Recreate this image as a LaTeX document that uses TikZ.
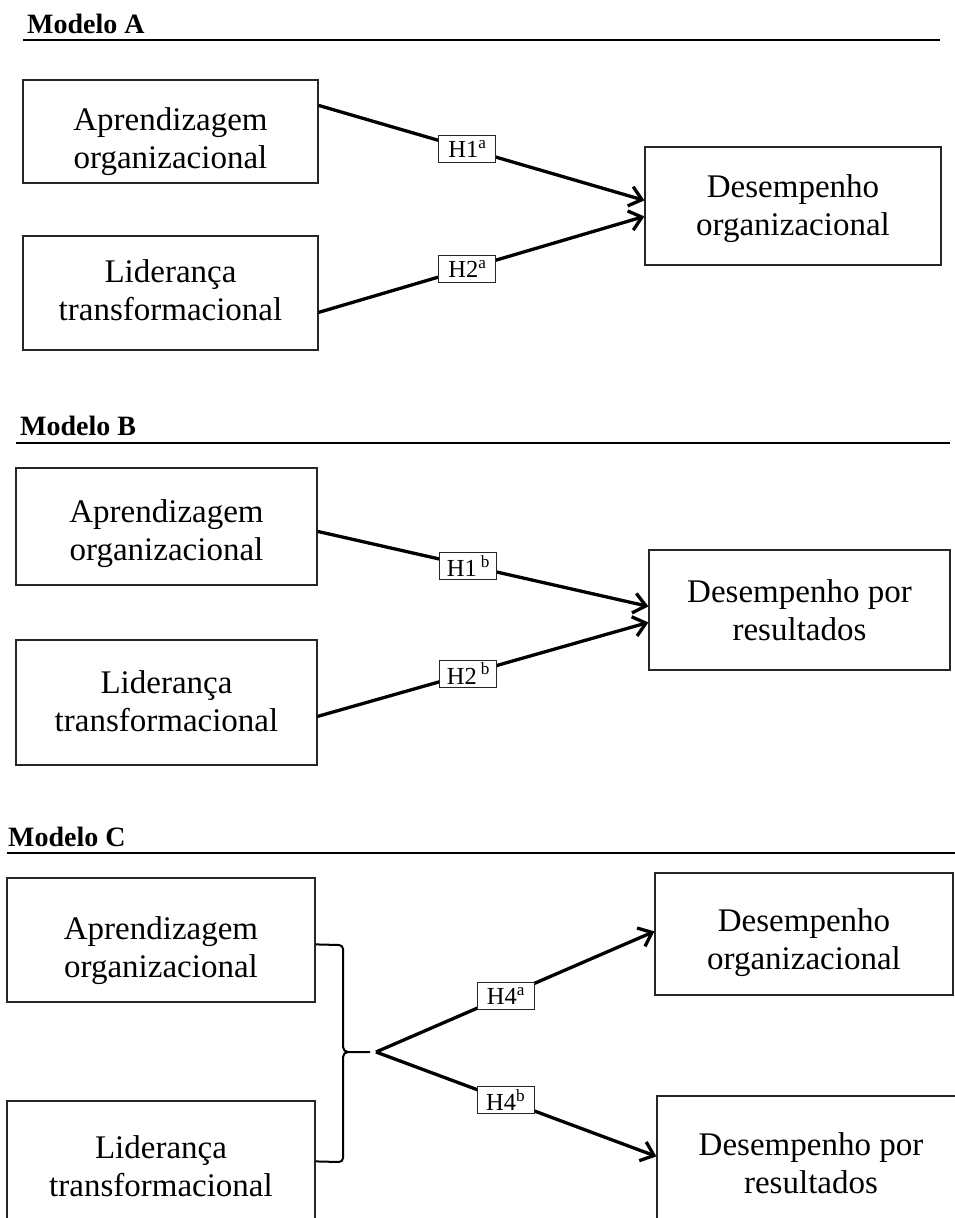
\documentclass[tikz,border=0pt]{standalone}
\usepackage{fontspec}
\setmainfont{Liberation Serif}
\usetikzlibrary{arrows.meta}

\tikzset{
  box/.style={draw=black!85, line width=1.2pt, inner sep=0pt},
  txt/.style={anchor=base, inner sep=0pt, font=\fontsize{33}{38}\selectfont},
  title/.style={anchor=base west, inner sep=0pt, font=\fontsize{28}{30}\selectfont\bfseries},
  rule/.style={line width=2.7pt},
  arr/.style={line width=3.3pt, -{Straight Barb[length=12pt,width=20pt]}},
  hlab/.style={draw=black!85, line width=1pt, fill=white, inner sep=0pt,
    minimum width=57pt, minimum height=27pt, font=\fontsize{24.5}{26}\selectfont},
  brace/.style={line width=2pt}
}
\newcommand{\twolines}[2]{\begin{tabular}[t]{@{}c@{}}#1\\#2\end{tabular}}

\begin{document}
\begin{tikzpicture}[x=1pt,y=-1pt]
\useasboundingbox (0,0) rectangle (955,1218);
\clip (0,0) rectangle (955,1218);

% ---------------- Modelo A ----------------
\node[title] (ta) at (27,33) {Modelo A};
\draw[rule] (23,40) -- (940,40);

\node[box, minimum width=295pt, minimum height=103pt] (a1) at (170.5,131.5) {};
\node[txt] (a1t) at (170.5,130) {\twolines{Aprendizagem}{organizacional}};
\node[box, minimum width=295pt, minimum height=114pt] (a2) at (170.5,293) {};
\node[txt] (a2t) at (170.5,282) {\twolines{Liderança}{transformacional}};
\node[box, minimum width=296pt, minimum height=118pt] (a3) at (793,206) {};
\node[txt] (a3t) at (793,197) {\twolines{Desempenho}{organizacional}};

\draw[arr] ([yshift=-26pt]a1.north east) -- node[hlab,pos=0.457] (h1a) {H1\textsuperscript{a}} ([yshift=-54pt]a3.north west);
\draw[arr] ([yshift=-77pt]a2.north east) -- node[hlab,pos=0.457] (h2a) {H2\textsuperscript{a}} ([yshift=-70pt]a3.north west);

% ---------------- Modelo B ----------------
\node[title] (tb) at (20,435) {Modelo B};
\draw[rule] (16,443) -- (950,443);

\node[box, minimum width=301pt, minimum height=117pt] (b1) at (166.5,526.5) {};
\node[txt] (b1t) at (166.5,522) {\twolines{Aprendizagem}{organizacional}};
\node[box, minimum width=301pt, minimum height=125pt] (b2) at (166.5,702.5) {};
\node[txt] (b2t) at (166.5,693) {\twolines{Liderança}{transformacional}};
\node[box, minimum width=301pt, minimum height=120pt] (b3) at (799.5,610) {};
\node[txt] (b3t) at (799.5,602) {\twolines{Desempenho por}{resultados}};

\draw[arr] ([yshift=-64pt]b1.north east) -- node[hlab,pos=0.456] (h1b) {H1\,\textsuperscript{b}} ([yshift=-57pt]b3.north west);
\draw[arr] ([yshift=-77pt]b2.north east) -- node[hlab,pos=0.456] (h2b) {H2\,\textsuperscript{b}} ([yshift=-73pt]b3.north west);

% ---------------- Modelo C ----------------
\node[title] (tc) at (8,846) {Modelo C};
\draw[rule] (7,853) -- (955,853);

\node[box, minimum width=308pt, minimum height=124pt] (c1) at (161,940) {};
\node[txt] (c1t) at (161,939) {\twolines{Aprendizagem}{organizacional}};
\node[box, minimum width=308pt, minimum height=139pt] (c2) at (161,1170.5) {};
\node[txt] (c2t) at (161,1158) {\twolines{Liderança}{transformacional}};
\node[box, minimum width=298pt, minimum height=122pt] (c3) at (804,934) {};
\node[txt] (c3t) at (804,931) {\twolines{Desempenho}{organizacional}};
\node[box, minimum width=308pt, minimum height=144pt] (c4) at (811,1168) {};
\node[txt] (c4t) at (811,1155) {\twolines{Desempenho por}{resultados}};

% brace joining the two predictors
\coordinate (bm) at (370,1052);
\draw[brace] ([yshift=-67pt]c1.north east) -- (339,945)
  to[out=0,in=90] (343,949) -- (343,1047) to[out=-90,in=180] (348,1052) -- (bm);
\draw[brace] (348,1052) to[out=180,in=90] (343,1057) -- (343,1158)
  to[out=-90,in=0] (339,1162) -- ([yshift=-61pt]c2.north east);

\coordinate (fork) at (376,1052);
\draw[arr] (fork) -- node[hlab,pos=0.467] (h4a) {H4\textsuperscript{a}} ([yshift=-59pt]c3.north west);
\draw[arr] (fork) -- node[hlab,pos=0.4625] (h4b) {H4\textsuperscript{b}} ([yshift=-61pt]c4.north west);
\end{tikzpicture}
\end{document}
